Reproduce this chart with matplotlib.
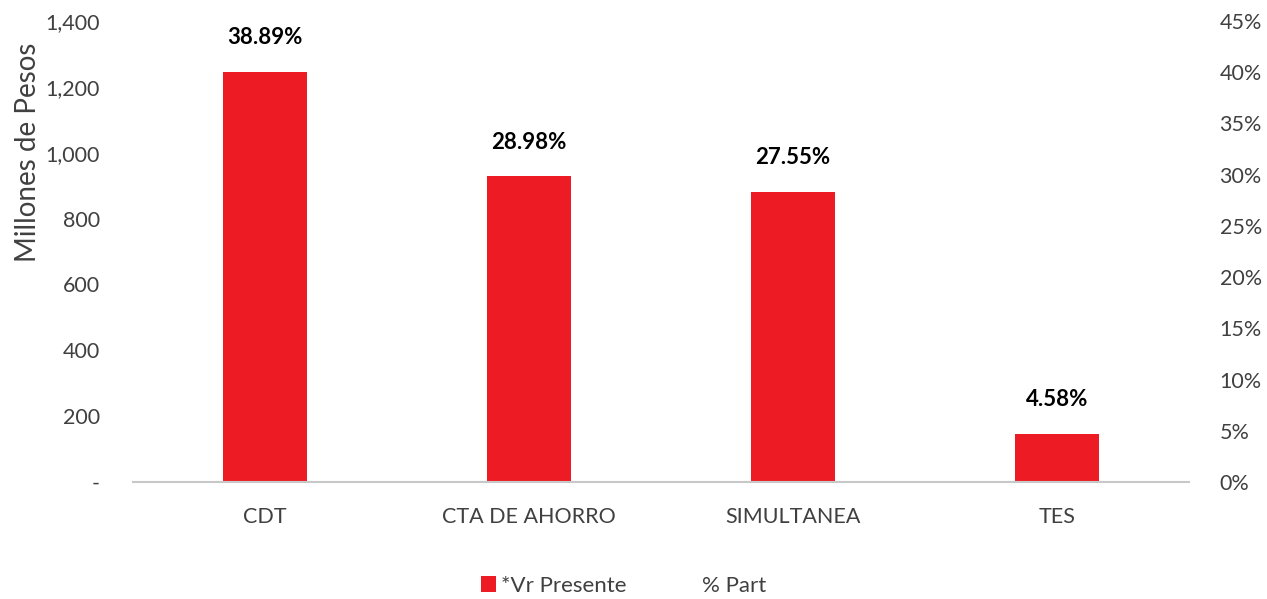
import matplotlib.pyplot as plt
from matplotlib.ticker import FuncFormatter, MultipleLocator

# data
categorias = ['CDT', 'CTA DE AHORRO', 'SIMULTANEA', 'TES']
vr_presente = [1245, 928, 882, 147]
part = [38.89, 28.98, 27.55, 4.58]

rojo = '#ED1C24'
gris = '#404040'
plt.rcParams['font.family'] = ['Lato', 'DejaVu Sans']

fig = plt.figure(figsize=(12.67, 5.99), dpi=100)
ax = fig.add_axes([133 / 1267, 1 - 482 / 599, (1189 - 133) / 1267, (482 - 21) / 599])
ax2 = ax.twinx()

x = list(range(len(categorias)))
barras = ax.bar(x, vr_presente, width=0.32, color=rojo, label='*Vr Presente', zorder=2)
linea, = ax2.plot(x, part, color='none', label='% Part')

ax.set_xlim(-0.5, len(categorias) - 0.5)
ax.set_ylim(0, 1400)
ax2.set_ylim(0, 45)
ax.yaxis.set_major_locator(MultipleLocator(200))
ax2.yaxis.set_major_locator(MultipleLocator(5))
ax.yaxis.set_major_formatter(FuncFormatter(lambda v, p: '-' if v == 0 else f'{v:,.0f}'))
ax2.yaxis.set_major_formatter(FuncFormatter(lambda v, p: f'{v:.0f}%'))

for a in (ax, ax2):
    for s in a.spines.values():
        s.set_visible(False)
    a.tick_params(length=0, labelsize=15.5, colors=gris)
ax.spines['bottom'].set_visible(True)
ax.spines['bottom'].set_color('#C8C8C8')
ax.spines['bottom'].set_linewidth(1.5)
ax.tick_params(axis='y', pad=24)
ax2.tick_params(axis='y', pad=22)
ax.tick_params(axis='x', pad=18)
ax.set_xticks(x)
ax.set_xticklabels(categorias)

# eje y arriba, como en el original
ax.set_ylabel('Millones de Pesos', fontsize=20, color=gris)
ax.yaxis.set_label_coords(-0.087, 0.716)

for xi, v, p in zip(x, vr_presente, part):
    ax.annotate(f'{p:.2f}%', (xi, v), xytext=(0, 17), textcoords='offset points',
                ha='center', va='bottom', fontsize=16, fontweight='bold', color='black')

fig.legend([barras, linea], ['*Vr Presente', '% Part'], loc='center',
           bbox_to_anchor=(0.492, 1 - 586 / 599), ncol=2, frameon=False,
           fontsize=16, labelcolor=gris, handlelength=0.7, handleheight=0.7,
           columnspacing=2.5, handletextpad=0.2)

plt.savefig('out.png', dpi=100)
